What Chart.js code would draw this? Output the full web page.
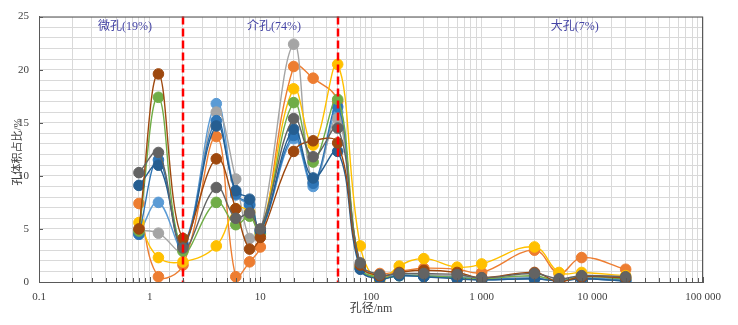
<!DOCTYPE html>
<html>
<head>
<meta charset="utf-8">
<script src="https://cdn.jsdelivr.net/npm/chart.js@4.4.1/dist/chart.umd.min.js"></script>
<style>
  html, body { margin: 0; padding: 0; background: #fff; }
  #wrap { width: 738px; height: 325px; }
</style>
</head>
<body>
<div id="wrap"><canvas id="poreChart" width="738" height="325"></canvas></div>
<script>
// pore diameter (nm) and pore volume share (%) per sample
const poreSizes = [0.8, 1.2, 2, 4, 6, 8, 10, 20, 30, 50, 80, 120, 180, 300, 600, 1000, 3000, 5000, 8000, 20000];

const sLightBlue = [4.5, 7.5, 3.3, 16.8, 8.2, 7.2, 4.8, 13.5, 9.0, 16.0, 1.3, 0.5, 0.7, 0.6, 0.5, 0.3, 0.4, 0.1, 0.4, 0.2];
const sOrange    = [7.4, 0.5, 1.6, 13.7, 0.5, 1.9, 3.3, 20.3, 19.2, 17.0, 1.5, 0.8, 1.0, 1.3, 1.2, 0.9, 3.0, 0.8, 2.3, 1.2];
const sGray      = [4.9, 4.6, 3.0, 16.0, 9.7, 4.1, 4.6, 22.4, 9.4, 15.4, 1.5, 0.6, 0.8, 0.7, 0.6, 0.4, 0.5, 0.2, 0.5, 0.3];
const sYellow    = [5.6, 2.3, 1.9, 3.4, 6.9, 6.6, 4.6, 18.2, 12.9, 20.5, 3.4, 0.0, 1.5, 2.2, 1.4, 1.7, 3.3, 0.9, 0.9, 0.6];
const sBlue      = [4.5, 11.5, 3.6, 15.2, 8.3, 7.3, 4.9, 13.8, 9.3, 16.5, 1.3, 0.4, 0.6, 0.5, 0.4, 0.2, 0.3, 0.1, 0.3, 0.1];
const sGreen     = [4.8, 17.4, 2.9, 7.5, 5.4, 6.2, 4.5, 16.9, 11.3, 17.2, 1.4, 0.4, 0.6, 0.6, 0.4, 0.3, 0.6, 0.1, 0.5, 0.3];
const sDarkBlue  = [9.1, 11.0, 3.4, 14.7, 8.6, 7.8, 4.8, 14.4, 9.8, 12.3, 1.2, 0.3, 0.6, 0.5, 0.3, 0.2, 0.3, 0.1, 0.3, 0.1];
const sBrown     = [5.0, 19.6, 4.1, 11.6, 6.9, 3.1, 4.2, 12.3, 13.3, 13.1, 1.6, 0.6, 0.9, 1.1, 0.9, 0.4, 0.9, 0.0, 0.5, 0.4];
const sDarkGray  = [10.3, 12.2, 3.2, 8.9, 6.0, 6.5, 5.0, 15.4, 11.8, 14.5, 1.8, 0.7, 0.8, 0.8, 0.7, 0.4, 0.8, 0.3, 0.6, 0.5];

const seriesList = [sLightBlue, sOrange, sGray, sYellow, sBlue, sGreen, sDarkBlue, sBrown, sDarkGray];
const seriesColors = ["#5B9BD5", "#ED7D31", "#A5A5A5", "#FFC000", "#2E75B6", "#70AD47", "#255E91", "#9E480E", "#636363"];

// boundaries between micro / meso / macro pores
const poreBounds = [2, 50];
const zoneLabels = ["微孔(19%)", "介孔(74%)", "大孔(7%)"];
const zoneLabelX = [0.6, 13.3, 6950];
const zoneLabelY = 24;

const serif = '"Liberation Serif", "Noto Sans CJK SC", serif';

const datasets = seriesList.map((vals, i) => ({
  data: poreSizes.map((x, j) => ({ x: x, y: vals[j] })),
  borderColor: seriesColors[i],
  backgroundColor: seriesColors[i],
  pointBackgroundColor: seriesColors[i],
  pointBorderColor: seriesColors[i],
  borderWidth: 1.4,
  pointRadius: 5.3,
  pointBorderWidth: 1,
  tension: 0.4,
  order: seriesList.length - i
}));

const isPow10 = (v) => {
  const l = Math.log10(v);
  return Math.abs(l - Math.round(l)) < 1e-9;
};
const fmtThousands = (v) => v < 1 ? String(v) : String(Math.round(v)).replace(/\B(?=(\d{3})+(?!\d))/g, " ");

const poreOverlay = {
  id: "poreOverlay",
  afterDatasetsDraw(chart) {
    const { ctx, chartArea: { top, bottom, left, right }, scales: { x, y } } = chart;
    ctx.save();

    // dashed red boundaries
    ctx.strokeStyle = "#FF0000";
    ctx.lineWidth = 2.5;
    ctx.setLineDash([8, 4]);
    poreBounds.forEach((b) => {
      const px = Math.round(x.getPixelForValue(b));
      ctx.beginPath();
      ctx.moveTo(px, top);
      ctx.lineTo(px, bottom);
      ctx.stroke();
    });
    ctx.setLineDash([]);

    // frame
    ctx.strokeStyle = "#595959";
    ctx.lineWidth = 1;
    ctx.strokeRect(left + 0.5, top + 0.5, right - left - 1, bottom - top);

    // inward tick marks
    ctx.beginPath();
    x.ticks.forEach((t) => {
      const px = Math.round(x.getPixelForValue(t.value)) + 0.5;
      ctx.moveTo(px, bottom);
      ctx.lineTo(px, bottom - (isPow10(t.value) ? 5 : 4));
    });
    y.ticks.forEach((t) => {
      if (t.value % 5 !== 0) return;
      const py = Math.round(y.getPixelForValue(t.value)) + 0.5;
      ctx.moveTo(left, py);
      ctx.lineTo(left + 4, py);
    });
    ctx.stroke();

    // zone labels
    ctx.fillStyle = "#4545A5";
    ctx.font = "12px " + serif;
    ctx.textAlign = "center";
    ctx.textBaseline = "middle";
    zoneLabels.forEach((txt, i) => {
      ctx.fillText(txt, x.getPixelForValue(zoneLabelX[i]), y.getPixelForValue(zoneLabelY));
    });

    // axis titles
    ctx.fillStyle = "#404040";
    ctx.font = "12px " + serif;
    ctx.fillText("孔径/nm", (left + right) / 2, 309);
    ctx.font = "11px " + serif;
    ctx.translate(18, 152);
    ctx.rotate(-Math.PI / 2);
    ctx.fillText("孔体积占比/%", 0, 0);
    ctx.restore();
  }
};

new Chart(document.getElementById("poreChart"), {
  type: "line",
  data: { datasets: datasets },
  options: {
    responsive: false,
    animation: false,
    devicePixelRatio: 1,
    layout: { padding: { top: 15, right: 35, left: 0, bottom: 0 } },
    plugins: {
      legend: { display: false },
      tooltip: { enabled: false }
    },
    scales: {
      x: {
        type: "logarithmic",
        min: 0.1,
        max: 100000,
        afterFit: (s) => { s.height = 43; },
        grid: { color: "#D9D9D9", drawTicks: false },
        border: { color: "#595959" },
        ticks: {
          autoSkip: false,
          maxRotation: 0,
          padding: 9,
          color: "#404040",
          font: { family: serif, size: 11 },
          callback: (v) => isPow10(v) ? fmtThousands(v) : ""
        }
      },
      y: {
        min: 0,
        max: 25,
        afterFit: (s) => { s.width = 39; },
        grid: { color: "#D9D9D9", drawTicks: false },
        border: { color: "#595959" },
        ticks: {
          stepSize: 1,
          autoSkip: false,
          padding: 10,
          color: "#404040",
          font: { family: serif, size: 11 },
          callback: (v) => v % 5 === 0 ? v : ""
        }
      }
    }
  },
  plugins: [poreOverlay]
});
</script>
</body>
</html>
